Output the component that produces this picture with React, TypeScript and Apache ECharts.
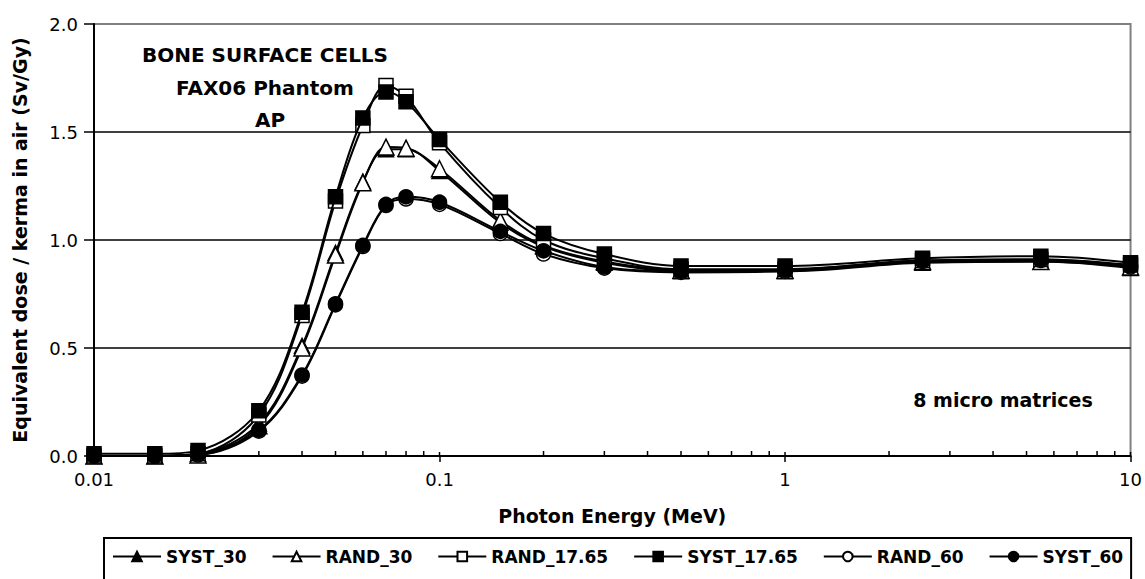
import React, { useEffect, useRef } from "react";
import * as echarts from "echarts";

const energies = [0.01, 0.015, 0.02, 0.03, 0.04, 0.05, 0.06, 0.07, 0.08, 0.1, 0.15, 0.2, 0.3, 0.5, 1, 2.5, 5.5, 10];

const syst30 = [0.0, 0.0, 0.01, 0.15, 0.51, 0.94, 1.27, 1.42, 1.42, 1.32, 1.08, 0.97, 0.895, 0.855, 0.855, 0.895, 0.9, 0.87];
const rand30 = [0.0, 0.0, 0.005, 0.14, 0.5, 0.93, 1.265, 1.43, 1.425, 1.33, 1.09, 0.975, 0.9, 0.86, 0.86, 0.9, 0.9, 0.875];
const rand1765 = [0.0, 0.0, 0.01, 0.19, 0.65, 1.18, 1.53, 1.715, 1.665, 1.45, 1.15, 1.0, 0.915, 0.865, 0.865, 0.905, 0.91, 0.885];
const syst1765 = [0.01, 0.01, 0.025, 0.21, 0.665, 1.2, 1.565, 1.685, 1.64, 1.465, 1.175, 1.03, 0.935, 0.88, 0.88, 0.915, 0.925, 0.895];
const rand60 = [0.0, 0.0, 0.005, 0.115, 0.37, 0.7, 0.97, 1.16, 1.19, 1.165, 1.03, 0.935, 0.87, 0.85, 0.855, 0.9, 0.905, 0.875];
const syst60 = [0.0, 0.0, 0.01, 0.12, 0.375, 0.705, 0.975, 1.165, 1.2, 1.175, 1.04, 0.95, 0.875, 0.855, 0.86, 0.905, 0.91, 0.88];

const seriesNames = ["SYST_30", "RAND_30", "RAND_17.65", "SYST_17.65", "RAND_60", "SYST_60"];
const xTickLabels: Record<string, string> = { "0.01": "0.01", "0.1": "0.1", "1": "1", "10": "10" };
const minorDecades = [0.01, 0.1, 1];
const minorMultipliers = [2, 3, 4, 5, 6, 7, 8, 9];
const majorTicks = [0.01, 0.1, 1, 10];
const annotationLines = ["BONE SURFACE CELLS", "FAX06 Phantom", "AP"];
const noteText = "8 micro matrices";
const xAxisTitle = "Photon Energy (MeV)";
const yAxisTitle = "Equivalent dose / kerma in air (Sv/Gy)";

const FONT = "DejaVu Sans";

export default function App() {
  const ref = useRef<HTMLDivElement>(null);
  useEffect(() => {
    document.body.style.margin = "0";
    document.body.style.overflow = "hidden";
    const chart = echarts.init(ref.current!, null, { renderer: "svg" });
    const mk = (name: string, data: number[], symbol: string, filled: boolean, size: number, z: number) => ({
      name,
      type: "line",
      data: energies.map((e, i) => [e, data[i]]),
      smooth: 0.35,
      symbol,
      symbolSize: size,
      clip: false,
      z,
      lineStyle: { color: "#000", width: 2 },
      itemStyle: { color: filled ? "#000" : "#fff", borderColor: "#000", borderWidth: 1.5 },
      emphasis: { disabled: true },
    });
    chart.setOption({
      animation: false,
      grid: {
        left: 94,
        right: 14,
        top: 24,
        bottom: 123,
        show: true,
        borderColor: "#808080",
        borderWidth: 2,
        backgroundColor: "transparent",
      },
      legend: {
        left: 104,
        top: 538,
        data: seriesNames,
        itemWidth: 48,
        itemHeight: 12,
        itemGap: 25,
        padding: [10, 8, 24, 8],
        borderColor: "#000",
        borderWidth: 2,
        borderRadius: 0,
        textStyle: { fontFamily: FONT, fontWeight: "bold", fontSize: 17, color: "#000" },
      },
      xAxis: {
        type: "log",
        logBase: 10,
        min: 0.01,
        max: 10,
        name: xAxisTitle,
        nameLocation: "middle",
        nameGap: 50,
        nameTextStyle: { fontFamily: FONT, fontWeight: "bold", fontSize: 19, color: "#000" },
        axisLine: { lineStyle: { color: "#000", width: 2 } },
        axisTick: { show: true, length: 6, lineStyle: { color: "#000", width: 1.5 } },
        axisLabel: {
          margin: 14,
          fontFamily: FONT,
          fontSize: 18,
          color: "#000",
          formatter: (v: number) => xTickLabels[String(v)] ?? String(v),
        },
        splitLine: { show: false },
        minorTick: { show: false },
      },
      yAxis: {
        type: "value",
        min: 0,
        max: 2,
        interval: 0.5,
        name: yAxisTitle,
        nameLocation: "middle",
        nameGap: 65,
        nameTextStyle: { fontFamily: FONT, fontWeight: "bold", fontSize: 19, color: "#000" },
        axisLine: { show: true, lineStyle: { color: "#000", width: 2 } },
        axisTick: { show: true, length: 10, lineStyle: { color: "#000", width: 1.5 } },
        axisLabel: {
          margin: 16,
          fontFamily: FONT,
          fontSize: 18,
          color: "#000",
          formatter: (v: number) => v.toFixed(1),
        },
        splitLine: { show: true, showMinLine: false, showMaxLine: false, lineStyle: { color: "#000", width: 1.5 } },
      },
      series: [
        mk(seriesNames[0], syst30, "triangle", true, 15, 2),
        mk(seriesNames[1], rand30, "triangle", false, 16, 3),
        mk(seriesNames[2], rand1765, "rect", false, 14, 4),
        mk(seriesNames[3], syst1765, "rect", true, 14, 5),
        mk(seriesNames[4], rand60, "circle", false, 14, 6),
        mk(seriesNames[5], syst60, "circle", true, 14, 7),
      ],
    });

    const y0 = chart.convertToPixel({ yAxisIndex: 0 }, 0) as number;
    const graphics: any[] = [];
    minorDecades.forEach((d) =>
      minorMultipliers.forEach((m) => {
        const x = chart.convertToPixel({ xAxisIndex: 0 }, d * m) as number;
        graphics.push({ type: "line", shape: { x1: x, y1: y0 - 5, x2: x, y2: y0 }, style: { stroke: "#000", lineWidth: 1.5 }, z: 10 });
      })
    );
    majorTicks.forEach((v) => {
      const x = chart.convertToPixel({ xAxisIndex: 0 }, v) as number;
      graphics.push({ type: "line", shape: { x1: x, y1: y0 - 4, x2: x, y2: y0 }, style: { stroke: "#000", lineWidth: 1.5 }, z: 10 });
    });
    const annoY = [55, 88, 120];
    const annoX = [265, 265, 270];
    annotationLines.forEach((t, i) => {
      graphics.push({
        type: "text",
        x: annoX[i],
        y: annoY[i],
        style: { text: t, fontFamily: FONT, fontWeight: "bold", fontSize: 20, fill: "#000", textAlign: "center", textVerticalAlign: "middle" },
        z: 20,
      });
    });
    graphics.push({
      type: "text",
      x: 1003,
      y: 400,
      style: { text: noteText, fontFamily: FONT, fontWeight: "bold", fontSize: 19, fill: "#000", textAlign: "center", textVerticalAlign: "middle" },
      z: 20,
    });
    chart.setOption({ graphic: graphics });

    return () => chart.dispose();
  }, []);
  return <div ref={ref} style={{ width: 1145, height: 579 }} />;
}
